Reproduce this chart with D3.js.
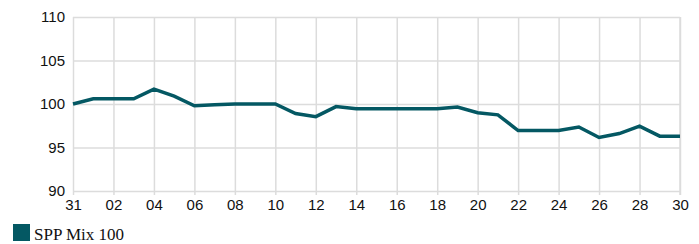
<!DOCTYPE html>
<html>
<head>
<meta charset="utf-8">
<script src="https://cdn.jsdelivr.net/npm/d3@7"></script>
<style>
  body { margin: 0; background: #fff; }
  .tick text { font-family: "Liberation Sans", Arial, sans-serif; font-size: 15px; fill: #111; }
  .legend-text { font-family: "Liberation Serif", "Times New Roman", serif; font-size: 17px; fill: #111; }
</style>
</head>
<body>
<div id="chart"></div>
<script>
const days = ["31", "01", "02", "03", "04", "05", "06", "07", "08", "09", "10",
  "11", "12", "13", "14", "15", "16", "17", "18", "19", "20",
  "21", "22", "23", "24", "25", "26", "27", "28", "29", "30"];
const values = [100.0, 100.6, 100.6, 100.6, 101.7, 100.9, 99.8, 99.9, 100.0, 100.0, 100.0,
  98.9, 98.55, 99.7, 99.45, 99.45, 99.45, 99.45, 99.45, 99.65, 99.0,
  98.75, 96.95, 96.95, 96.95, 97.35, 96.15, 96.6, 97.45, 96.3, 96.3];
const tickDays = days.filter((d, i) => i % 2 === 0);
const yTicks = [90, 95, 100, 105, 110];
const seriesName = "SPP Mix 100";

const width = 699;
const height = 244;
const margin = { top: 17, right: 19, bottom: 53, left: 73 };
const innerW = width - margin.left - margin.right;
const innerH = height - margin.top - margin.bottom;

const svg = d3.select("#chart").append("svg").attr("width", width).attr("height", height);
const g = svg.append("g").attr("transform", `translate(${margin.left},${margin.top})`);

const x = d3.scalePoint().domain(days).range([0, innerW]);
const y = d3.scaleLinear().domain([90, 110]).range([innerH, 0]);

// grid + axes
const xAxis = g.append("g").attr("transform", `translate(0,${innerH})`)
  .call(d3.axisBottom(x).tickValues(tickDays).tickSize(-innerH).tickSizeOuter(0).tickPadding(8));
xAxis.selectAll(".tick line").attr("stroke", "#dcdcdc").attr("stroke-width", 1.5).attr("y1", 4);
xAxis.select(".domain").remove();

const yAxis = g.append("g")
  .call(d3.axisLeft(y).tickValues(yTicks).tickSize(-innerW).tickSizeOuter(0).tickPadding(8));
yAxis.selectAll(".tick line").attr("stroke", "#dcdcdc").attr("stroke-width", 1.5);
yAxis.select(".domain").remove();

// right border
g.append("line").attr("x1", innerW).attr("x2", innerW).attr("y1", 0).attr("y2", innerH + 4)
  .attr("stroke", "#dcdcdc").attr("stroke-width", 1.5);

const line = d3.line().x((d, i) => x(days[i])).y(d => y(d));
g.append("path").datum(values)
  .attr("fill", "none")
  .attr("stroke", "#045863")
  .attr("stroke-width", 3.5)
  .attr("d", line);

// legend
svg.append("rect").attr("x", 13).attr("y", 224).attr("width", 17).attr("height", 17).attr("fill", "#045863");
svg.append("text").attr("class", "legend-text").attr("x", 34).attr("y", 240).text(seriesName);
</script>
</body>
</html>
